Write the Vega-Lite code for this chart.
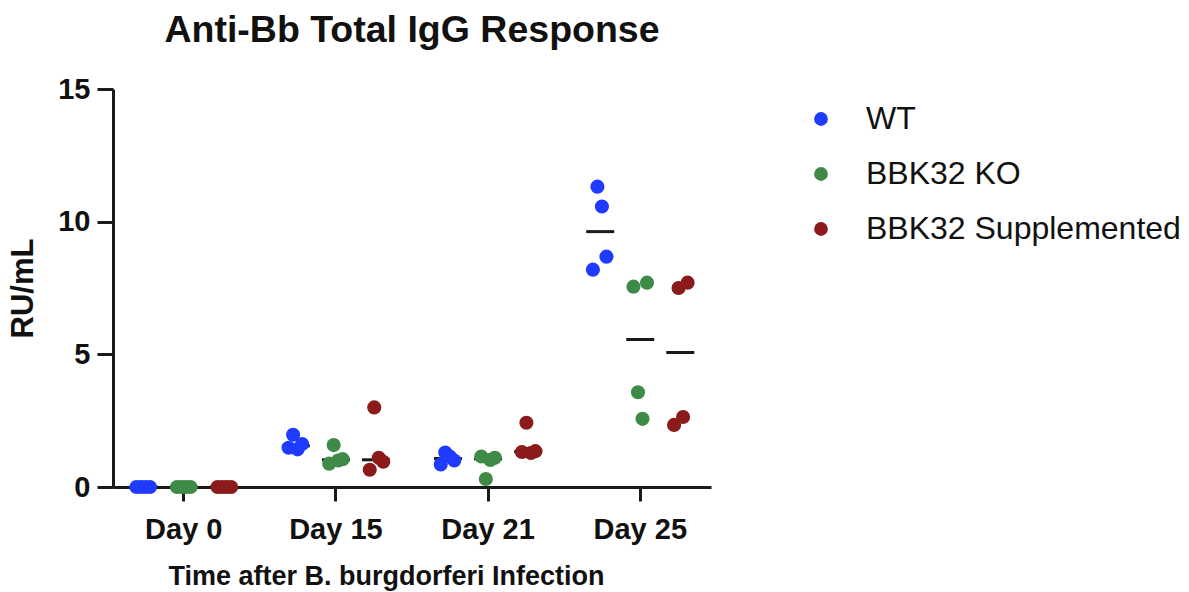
{
  "$schema": "https://vega.github.io/schema/vega-lite/v6.json",
  "autosize": {"type": "none"},
  "width": 598,
  "height": 398,
  "padding": {"left": 113, "top": 89, "right": 478, "bottom": 105},
  "background": "white",
  "config": {
    "view": {"stroke": null},
    "font": "Liberation Sans",
    "axis": {"grid": false, "domainColor": "#1a1a1a", "tickColor": "#1a1a1a", "domainWidth": 3, "tickWidth": 3, "labelColor": "#111", "titleColor": "#111", "labelFont": "Liberation Sans", "titleFont": "Liberation Sans", "labelFontWeight": "bold", "titleFontWeight": "bold"}
  },
  "title": {"text": "Anti-Bb Total IgG Response", "fontSize": 37.5, "fontWeight": "bold", "font": "Liberation Sans", "color": "#111", "anchor": "middle", "offset": 26},
  "data": {"values": [
    {"day": "Day 0", "group": "WT", "mouse": "WT 1", "value": 0},
    {"day": "Day 0", "group": "WT", "mouse": "WT 2", "value": 0},
    {"day": "Day 0", "group": "WT", "mouse": "WT 3", "value": 0},
    {"day": "Day 0", "group": "WT", "mouse": "WT 4", "value": 0},
    {"day": "Day 0", "group": "BBK32 KO", "mouse": "KO 1", "value": 0},
    {"day": "Day 0", "group": "BBK32 KO", "mouse": "KO 2", "value": 0},
    {"day": "Day 0", "group": "BBK32 KO", "mouse": "KO 3", "value": 0},
    {"day": "Day 0", "group": "BBK32 KO", "mouse": "KO 4", "value": 0},
    {"day": "Day 0", "group": "BBK32 Supplemented", "mouse": "S 1", "value": 0},
    {"day": "Day 0", "group": "BBK32 Supplemented", "mouse": "S 2", "value": 0},
    {"day": "Day 0", "group": "BBK32 Supplemented", "mouse": "S 3", "value": 0},
    {"day": "Day 0", "group": "BBK32 Supplemented", "mouse": "S 4", "value": 0},
    {"day": "Day 15", "group": "WT", "mouse": "WT 1", "value": 1.48},
    {"day": "Day 15", "group": "WT", "mouse": "WT 2", "value": 1.97},
    {"day": "Day 15", "group": "WT", "mouse": "WT 3", "value": 1.42},
    {"day": "Day 15", "group": "WT", "mouse": "WT 4", "value": 1.62},
    {"day": "Day 15", "group": "BBK32 KO", "mouse": "KO 1", "value": 0.88},
    {"day": "Day 15", "group": "BBK32 KO", "mouse": "KO 2", "value": 1.58},
    {"day": "Day 15", "group": "BBK32 KO", "mouse": "KO 3", "value": 1.0},
    {"day": "Day 15", "group": "BBK32 KO", "mouse": "KO 4", "value": 1.05},
    {"day": "Day 15", "group": "BBK32 Supplemented", "mouse": "S 1", "value": 0.65},
    {"day": "Day 15", "group": "BBK32 Supplemented", "mouse": "S 2", "value": 3.0},
    {"day": "Day 15", "group": "BBK32 Supplemented", "mouse": "S 3", "value": 1.1},
    {"day": "Day 15", "group": "BBK32 Supplemented", "mouse": "S 4", "value": 0.95},
    {"day": "Day 21", "group": "WT", "mouse": "WT 1", "value": 0.85},
    {"day": "Day 21", "group": "WT", "mouse": "WT 2", "value": 1.3},
    {"day": "Day 21", "group": "WT", "mouse": "WT 3", "value": 1.15},
    {"day": "Day 21", "group": "WT", "mouse": "WT 4", "value": 1.0},
    {"day": "Day 21", "group": "BBK32 KO", "mouse": "KO 1", "value": 1.15},
    {"day": "Day 21", "group": "BBK32 KO", "mouse": "KO 2", "value": 0.3},
    {"day": "Day 21", "group": "BBK32 KO", "mouse": "KO 3", "value": 1.02},
    {"day": "Day 21", "group": "BBK32 KO", "mouse": "KO 4", "value": 1.1},
    {"day": "Day 21", "group": "BBK32 Supplemented", "mouse": "S 1", "value": 1.32},
    {"day": "Day 21", "group": "BBK32 Supplemented", "mouse": "S 2", "value": 2.42},
    {"day": "Day 21", "group": "BBK32 Supplemented", "mouse": "S 3", "value": 1.28},
    {"day": "Day 21", "group": "BBK32 Supplemented", "mouse": "S 4", "value": 1.35},
    {"day": "Day 25", "group": "WT", "mouse": "WT 1", "value": 8.19},
    {"day": "Day 25", "group": "WT", "mouse": "WT 2", "value": 11.32},
    {"day": "Day 25", "group": "WT", "mouse": "WT 3", "value": 10.57},
    {"day": "Day 25", "group": "WT", "mouse": "WT 4", "value": 8.68},
    {"day": "Day 25", "group": "BBK32 KO", "mouse": "KO 1", "value": 7.55},
    {"day": "Day 25", "group": "BBK32 KO", "mouse": "KO 2", "value": 3.57},
    {"day": "Day 25", "group": "BBK32 KO", "mouse": "KO 3", "value": 2.57},
    {"day": "Day 25", "group": "BBK32 KO", "mouse": "KO 4", "value": 7.7},
    {"day": "Day 25", "group": "BBK32 Supplemented", "mouse": "S 1", "value": 2.34},
    {"day": "Day 25", "group": "BBK32 Supplemented", "mouse": "S 2", "value": 7.5},
    {"day": "Day 25", "group": "BBK32 Supplemented", "mouse": "S 3", "value": 2.64},
    {"day": "Day 25", "group": "BBK32 Supplemented", "mouse": "S 4", "value": 7.7}
  ]},
  "encoding": {
    "x": {"field": "day", "type": "nominal", "sort": ["Day 0", "Day 15", "Day 21", "Day 25"],
      "scale": {"paddingInner": 0.2, "paddingOuter": 0.065},
      "axis": {"title": "Time after B. burgdorferi Infection", "labelAngle": 0, "labelFontSize": 29, "titleFontSize": 27, "tickSize": 14, "labelPadding": 14, "titlePadding": 19, "titleX": 273, "titleAnchor": "middle"}},
    "y": {"field": "value", "type": "quantitative",
      "scale": {"domain": [0, 15], "nice": false, "zero": true},
      "axis": {"title": "RU/mL", "values": [0, 5, 10, 15], "labelFontSize": 29, "titleFontSize": 31, "tickSize": 16, "labelPadding": 7, "titlePadding": 18}}
  },
  "layer": [
    {
      "mark": {"type": "tick", "color": "#1a1a1a", "thickness": 3, "size": 28, "opacity": 1},
      "encoding": {
        "xOffset": {"field": "group", "type": "nominal", "sort": ["WT", "BBK32 KO", "BBK32 Supplemented"], "scale": {"paddingInner": 0, "paddingOuter": 0.02}},
        "y": {"aggregate": "median", "field": "value", "type": "quantitative"}
      }
    },
    {
      "mark": {"type": "point", "filled": true, "opacity": 1, "size": 200, "shape": "circle"},
      "encoding": {
        "xOffset": {"field": "mouse", "type": "nominal",
          "scale": {"domain": ["_1", "_2", "_3", "WT 1", "WT 2", "WT 3", "WT 4", "_a", "_b", "_c", "_d", "_e", "KO 1", "KO 2", "KO 3", "KO 4", "_f", "_g", "_h", "_i", "_j", "S 1", "S 2", "S 3", "S 4", "_4", "_5", "_6"], "paddingInner": 0, "paddingOuter": 0}},
        "color": {"field": "group", "type": "nominal",
          "scale": {"domain": ["WT", "BBK32 KO", "BBK32 Supplemented"], "range": ["#1f3bff", "#3d8b47", "#8b1a1a"]},
          "legend": {"title": null, "orient": "none", "legendX": 692, "legendY": 14, "labelFontSize": 32, "labelLimit": 0, "labelFont": "Liberation Sans", "labelColor": "#111", "symbolSize": 190, "symbolType": "circle", "labelOffset": 29, "rowPadding": 23, "padding": 0}}
      }
    }
  ],
  "resolve": {"scale": {"xOffset": "independent"}}
}
